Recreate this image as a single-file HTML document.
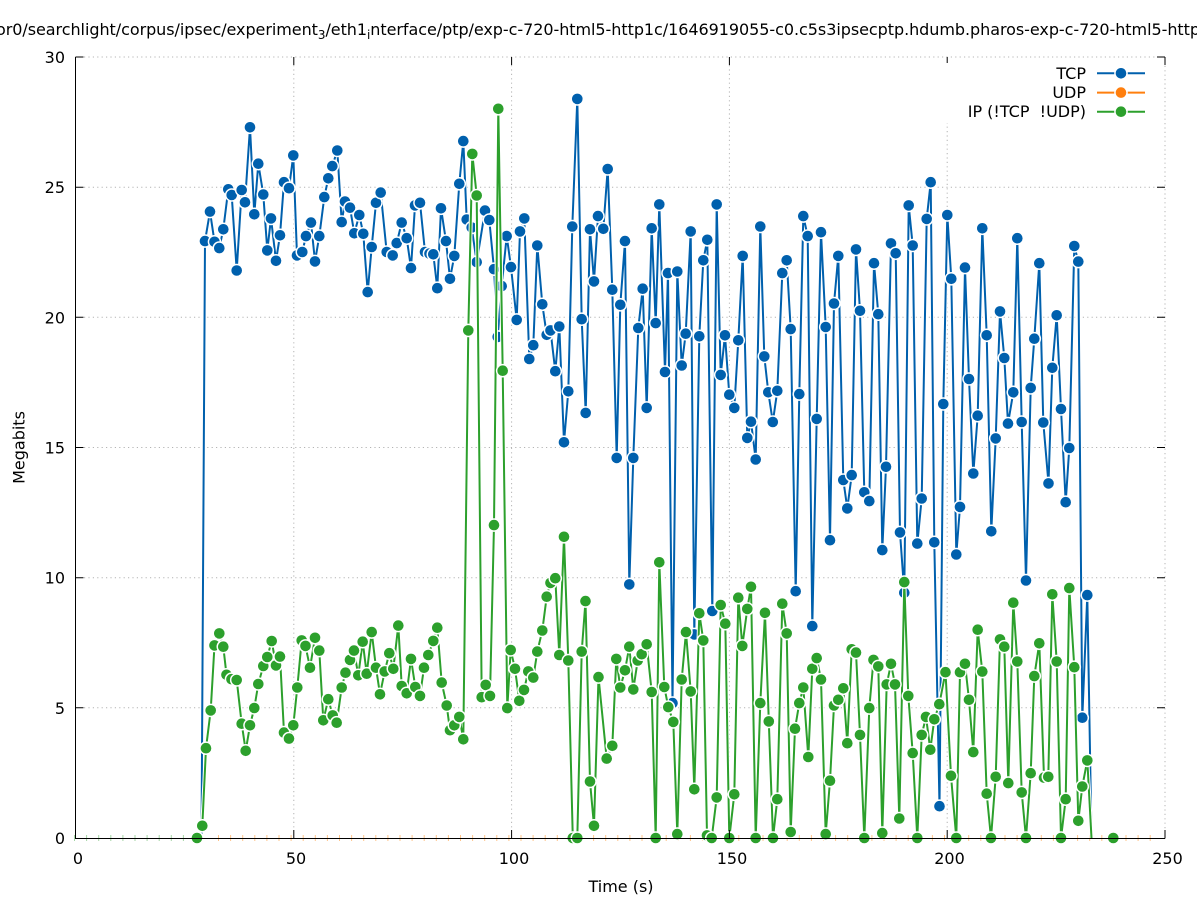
<!DOCTYPE html>
<html><head><meta charset="utf-8"><style>
html,body{margin:0;padding:0;background:#fff;width:1197px;height:900px;overflow:hidden}
svg{display:block}
text{font-family:"DejaVu Sans","Liberation Sans",sans-serif;font-size:16px;fill:#000}
</style></head><body>
<svg width="1197" height="900" viewBox="0 0 1197 900" xmlns="http://www.w3.org/2000/svg">
<defs>
<marker id="mB" markerWidth="16" markerHeight="16" refX="8" refY="8" markerUnits="userSpaceOnUse" overflow="visible"><circle cx="8" cy="8" r="6.8" fill="#fff"/><circle cx="8" cy="8" r="5.3" fill="#0060ad"/></marker>
<marker id="mG" markerWidth="16" markerHeight="16" refX="8" refY="8" markerUnits="userSpaceOnUse" overflow="visible"><circle cx="8" cy="8" r="6.8" fill="#fff"/><circle cx="8" cy="8" r="5.3" fill="#2ca02c"/></marker>
</defs>
<rect width="1197" height="900" fill="#fff"/>
<text x="-4" y="35" textLength="1204" lengthAdjust="spacing">or0/searchlight/corpus/ipsec/experiment<tspan font-size="12" dy="4">3</tspan><tspan dy="-4">/eth1</tspan><tspan font-size="12" dy="4">i</tspan><tspan dy="-4">nterface/ptp/exp-c-720-html5-http1c/1646919055-c0.c5s3ipsecptp.hdumb.pharos-exp-c-720-html5-http</tspan></text>

<!-- grid -->
<g stroke="#b4b4b4" stroke-width="1" stroke-dasharray="1.2 3.2" fill="none">
<path d="M84,707.8H1165M84,577.7H1165M84,447.5H1165M84,317.3H1165M84,187.2H1165M84,57H1165"/>
<path d="M293.8,65V830M511.6,65V830M729.4,65V830M947.2,65V830M1165,57V830"/>
</g>

<!-- TCP -->
<polyline fill="none" stroke="#fff" stroke-width="4" stroke-linejoin="round" points="201.5,838 205,241.1 210,211.6 214.5,241.8 219.3,248.1 223.3,229.3 228.3,189.3 231.7,195.0 236.7,270.5 241.7,190.0 245,202.3 250,127.3 254.3,214.3 258.3,163.7 263.3,194.5 267.3,250.4 271,218.4 276,260.8 280,235.3 284,182.2 289,188.2 293.3,155.4 297,255.4 302.3,252.0 306,236.1 311,222.6 315,261.4 319.3,236.1 324.3,197.1 328.3,178.3 332.3,166.1 337.3,150.5 341.7,222.1 345,201.5 350,207.7 354.3,233.3 359.3,215.0 363.3,233.8 367.7,292.1 371.7,247.0 376,202.8 380.7,192.6 386.7,252.0 392.7,255.4 396.7,243.1 401.7,222.6 406.7,238.2 411,268.1 415,205.4 420,202.8 425,252.0 429.5,253.6 433.3,254.3 437.3,288.2 441,208.3 446,241.1 450,278.8 454.3,255.9 459.3,183.8 463.3,141.1 466.7,219.5 471.7,227.5 476.7,262.1 485,210.6 489.3,220.0 494,269.2 497.7,336.9 501.7,286.1 506.7,236.1 511,267.1 516.7,319.9 520,231.4 524.3,218.4 529.3,359.0 533.3,345.2 537.3,245.5 542.3,304.3 546.7,334.8 550.5,330.4 555.3,371.2 559.3,326.5 564,442.3 568.3,391.3 572.3,226.5 577.3,98.9 581.7,319.2 585.7,412.9 590,229.3 594,281.4 598,216.1 603.3,228.8 607.7,169.0 612.3,289.7 616.7,457.9 620.3,304.8 625,241.1 629.3,584.4 633.3,457.9 638.3,328.0 642.7,288.7 646.7,407.9 651.7,228.3 655.7,323.1 659.3,204.4 665,372.0 668,273.1 672.5,703.1 677.3,271.5 681.7,365.5 685.7,333.7 690.7,231.4 694.3,634.4 699.3,336.3 703.3,260.3 707.3,239.8 712.3,611.0 716.7,204.4 720.7,374.9 725,335.3 729.3,394.7 734.3,407.9 738.3,340.3 742.7,255.9 747.3,437.9 751,421.7 755.7,459.5 760.3,226.5 764.3,356.4 768.3,392.3 772.8,422.0 777.3,390.8 782.3,273.1 786.7,260.3 790.7,329.1 795.7,591.2 799.3,394.1 803.3,216.1 807.7,236.1 812.3,626.1 816.7,418.9 821,232.2 825.7,327.0 830,540.2 834,303.5 838.3,255.9 843.3,480.0 847.3,508.4 851.7,475.1 856,249.4 860,310.8 864.3,492.3 869.3,501.1 874,263.2 878.3,314.2 882.3,550.1 886,466.8 891,243.4 895.7,253.3 900,532.4 904.3,592.8 908.7,205.4 912.7,245.5 917.3,543.6 921.7,498.5 926.7,218.9 930.7,182.2 934.3,542.3 939.5,806.2 943.3,404.0 947.3,215.0 951.3,278.8 956.3,554.5 960,506.9 965,267.6 969,379.0 973.3,473.5 977.7,415.7 982.3,228.3 986.7,335.3 991.3,531.3 995.7,438.4 1000,311.4 1004.3,358.0 1008,423.6 1013.3,392.3 1017.3,238.2 1021.7,422.0 1026,580.5 1030.7,387.9 1034.3,338.7 1039.3,263.2 1043.3,422.5 1048.5,483.4 1052.3,367.8 1056.7,315.3 1061,409.0 1065.7,502.2 1069.3,448.0 1074.3,246.0 1078.3,261.6 1082.3,717.7 1087.3,595.1 1091.5,838"/>
<polyline fill="none" stroke="#0060ad" stroke-width="2" stroke-linejoin="round" marker-mid="url(#mB)" points="201.5,838 205,241.1 210,211.6 214.5,241.8 219.3,248.1 223.3,229.3 228.3,189.3 231.7,195.0 236.7,270.5 241.7,190.0 245,202.3 250,127.3 254.3,214.3 258.3,163.7 263.3,194.5 267.3,250.4 271,218.4 276,260.8 280,235.3 284,182.2 289,188.2 293.3,155.4 297,255.4 302.3,252.0 306,236.1 311,222.6 315,261.4 319.3,236.1 324.3,197.1 328.3,178.3 332.3,166.1 337.3,150.5 341.7,222.1 345,201.5 350,207.7 354.3,233.3 359.3,215.0 363.3,233.8 367.7,292.1 371.7,247.0 376,202.8 380.7,192.6 386.7,252.0 392.7,255.4 396.7,243.1 401.7,222.6 406.7,238.2 411,268.1 415,205.4 420,202.8 425,252.0 429.5,253.6 433.3,254.3 437.3,288.2 441,208.3 446,241.1 450,278.8 454.3,255.9 459.3,183.8 463.3,141.1 466.7,219.5 471.7,227.5 476.7,262.1 485,210.6 489.3,220.0 494,269.2 497.7,336.9 501.7,286.1 506.7,236.1 511,267.1 516.7,319.9 520,231.4 524.3,218.4 529.3,359.0 533.3,345.2 537.3,245.5 542.3,304.3 546.7,334.8 550.5,330.4 555.3,371.2 559.3,326.5 564,442.3 568.3,391.3 572.3,226.5 577.3,98.9 581.7,319.2 585.7,412.9 590,229.3 594,281.4 598,216.1 603.3,228.8 607.7,169.0 612.3,289.7 616.7,457.9 620.3,304.8 625,241.1 629.3,584.4 633.3,457.9 638.3,328.0 642.7,288.7 646.7,407.9 651.7,228.3 655.7,323.1 659.3,204.4 665,372.0 668,273.1 672.5,703.1 677.3,271.5 681.7,365.5 685.7,333.7 690.7,231.4 694.3,634.4 699.3,336.3 703.3,260.3 707.3,239.8 712.3,611.0 716.7,204.4 720.7,374.9 725,335.3 729.3,394.7 734.3,407.9 738.3,340.3 742.7,255.9 747.3,437.9 751,421.7 755.7,459.5 760.3,226.5 764.3,356.4 768.3,392.3 772.8,422.0 777.3,390.8 782.3,273.1 786.7,260.3 790.7,329.1 795.7,591.2 799.3,394.1 803.3,216.1 807.7,236.1 812.3,626.1 816.7,418.9 821,232.2 825.7,327.0 830,540.2 834,303.5 838.3,255.9 843.3,480.0 847.3,508.4 851.7,475.1 856,249.4 860,310.8 864.3,492.3 869.3,501.1 874,263.2 878.3,314.2 882.3,550.1 886,466.8 891,243.4 895.7,253.3 900,532.4 904.3,592.8 908.7,205.4 912.7,245.5 917.3,543.6 921.7,498.5 926.7,218.9 930.7,182.2 934.3,542.3 939.5,806.2 943.3,404.0 947.3,215.0 951.3,278.8 956.3,554.5 960,506.9 965,267.6 969,379.0 973.3,473.5 977.7,415.7 982.3,228.3 986.7,335.3 991.3,531.3 995.7,438.4 1000,311.4 1004.3,358.0 1008,423.6 1013.3,392.3 1017.3,238.2 1021.7,422.0 1026,580.5 1030.7,387.9 1034.3,338.7 1039.3,263.2 1043.3,422.5 1048.5,483.4 1052.3,367.8 1056.7,315.3 1061,409.0 1065.7,502.2 1069.3,448.0 1074.3,246.0 1078.3,261.6 1082.3,717.7 1087.3,595.1 1091.5,838"/>

<!-- UDP / zero marks along axis -->
<line x1="74" y1="838" x2="196" y2="838" stroke="#a6d6a6" stroke-width="6" stroke-dasharray="1 11.1"/>
<line x1="218" y1="838" x2="1160" y2="838" stroke="#ffc48a" stroke-width="6" stroke-dasharray="1 11.1"/>

<!-- IP -->
<polyline fill="none" stroke="#fff" stroke-width="4" stroke-linejoin="round" points="197,838 202.3,825.8 206,748.2 210.7,710.4 214.5,645.4 219.3,633.4 223.3,646.7 226.5,674.8 231.5,679.2 236.7,680.0 241.7,723.7 245.7,750.8 250,725.3 254.3,708 258.3,684 263.3,666 267.3,657 271.7,641 276,665.4 280,656.6 284,732.6 289,738.6 293.3,725.3 297.3,687.5 301.7,640.4 305.5,645.9 310,667.7 315,637.8 319.3,650.6 323.3,720.3 328.3,699.2 332.7,715.4 336.7,722.7 341.7,687.5 345.5,672.7 350,659.9 354,650.6 358.3,675.3 362.7,641.7 366.7,673.7 371.7,632.1 376,667.7 380,694.3 384.7,671.4 389.3,653.2 393.3,668.8 398.3,625.6 401.7,686.0 406.7,693.3 411,658.9 415.3,687.0 420,695.9 424,667.7 428.3,655.0 433.3,640.9 437.3,627.7 441.7,682.6 446.7,705.5 450,730.2 454.3,725.3 459.3,716.9 463.3,739.3 468.3,330.4 472.3,153.9 476.7,195.5 481.7,697.2 485.7,684.9 490,695.9 494,525.1 498.3,108.8 502.7,370.7 507.3,708.1 510.7,650.0 515,668.8 519.3,700.8 524,689.9 528.3,671.4 533.3,677.6 537.3,651.6 542.3,630.5 546.7,596.7 550.5,582.9 555.3,578.2 559.3,655.0 564,536.8 568.3,660.5 572.8,838 577.3,838 581.7,651.6 585.5,601.1 590,781.5 594,825.8 598.5,677.1 606.7,758.6 612.3,745.8 616.3,658.9 620.3,687.5 625,670.3 629.3,646.7 633.3,689.4 637.7,660.5 641.7,654.2 646.7,644.3 651.7,692.0 655.7,838 659.3,562.3 664.3,687.0 668.3,707.1 673.3,721.9 677.3,834.1 681.7,679.5 686,632.1 690.7,691.4 694.3,789.3 699.3,613.3 703.3,640.4 707,835.4 711.7,838 716.7,797.4 720.7,605.0 725.3,623.7 729.3,838 734.3,794.3 738.3,597.7 742.3,645.9 747.3,608.9 751,586.8 755.7,838 760.3,703.1 765,612.8 768.8,721.4 773,838 777.3,799.2 782.3,603.7 786.7,633.4 790.7,832.0 795,728.7 799.3,703.1 803.3,687.5 808.3,757.0 812.3,668.8 816.7,658.1 821,679.5 825.7,834.1 830,780.7 834,705.5 838.3,699.8 843.3,688.3 847.3,743.2 851.7,649.3 856,652.6 860,734.9 864.3,838 869.3,708.1 873.5,659.9 878.3,666.4 882.3,833.1 886.7,684.4 891,663.8 895,684.4 899.3,818.5 904.3,582.1 908.3,695.9 912.7,753.1 917.3,838 921.7,734.9 926,716.9 930.3,749.7 934.3,719.3 939.3,704.2 945.5,672.2 951,775.8 956.3,838 960,672.2 965,663.8 969,699.8 973.3,752.1 977.7,629.7 982.3,671.6 986.7,793.7 991,838 995.7,776.8 1000,639.4 1004.3,646.7 1008.3,783.1 1013.3,602.7 1017.3,661.5 1021.7,792.4 1026,838 1030.7,773.2 1034.3,676.1 1039.3,643.3 1044,777.6 1048.3,776.8 1052.3,594.3 1056.7,661.5 1061,838 1065.7,799.2 1069.3,588.1 1074.3,667.2 1078.3,820.8 1082.3,786.5 1087.3,760.4 1091.5,838"/>
<polyline fill="none" stroke="#2ca02c" stroke-width="2" stroke-linejoin="round" points="1087.3,760.4 1091.5,838"/>
<polyline fill="none" stroke="#2ca02c" stroke-width="2" stroke-linejoin="round" marker-start="url(#mG)" marker-mid="url(#mG)" marker-end="url(#mG)" points="197,838 202.3,825.8 206,748.2 210.7,710.4 214.5,645.4 219.3,633.4 223.3,646.7 226.5,674.8 231.5,679.2 236.7,680.0 241.7,723.7 245.7,750.8 250,725.3 254.3,708 258.3,684 263.3,666 267.3,657 271.7,641 276,665.4 280,656.6 284,732.6 289,738.6 293.3,725.3 297.3,687.5 301.7,640.4 305.5,645.9 310,667.7 315,637.8 319.3,650.6 323.3,720.3 328.3,699.2 332.7,715.4 336.7,722.7 341.7,687.5 345.5,672.7 350,659.9 354,650.6 358.3,675.3 362.7,641.7 366.7,673.7 371.7,632.1 376,667.7 380,694.3 384.7,671.4 389.3,653.2 393.3,668.8 398.3,625.6 401.7,686.0 406.7,693.3 411,658.9 415.3,687.0 420,695.9 424,667.7 428.3,655.0 433.3,640.9 437.3,627.7 441.7,682.6 446.7,705.5 450,730.2 454.3,725.3 459.3,716.9 463.3,739.3 468.3,330.4 472.3,153.9 476.7,195.5 481.7,697.2 485.7,684.9 490,695.9 494,525.1 498.3,108.8 502.7,370.7 507.3,708.1 510.7,650.0 515,668.8 519.3,700.8 524,689.9 528.3,671.4 533.3,677.6 537.3,651.6 542.3,630.5 546.7,596.7 550.5,582.9 555.3,578.2 559.3,655.0 564,536.8 568.3,660.5 572.8,838 577.3,838 581.7,651.6 585.5,601.1 590,781.5 594,825.8 598.5,677.1 606.7,758.6 612.3,745.8 616.3,658.9 620.3,687.5 625,670.3 629.3,646.7 633.3,689.4 637.7,660.5 641.7,654.2 646.7,644.3 651.7,692.0 655.7,838 659.3,562.3 664.3,687.0 668.3,707.1 673.3,721.9 677.3,834.1 681.7,679.5 686,632.1 690.7,691.4 694.3,789.3 699.3,613.3 703.3,640.4 707,835.4 711.7,838 716.7,797.4 720.7,605.0 725.3,623.7 729.3,838 734.3,794.3 738.3,597.7 742.3,645.9 747.3,608.9 751,586.8 755.7,838 760.3,703.1 765,612.8 768.8,721.4 773,838 777.3,799.2 782.3,603.7 786.7,633.4 790.7,832.0 795,728.7 799.3,703.1 803.3,687.5 808.3,757.0 812.3,668.8 816.7,658.1 821,679.5 825.7,834.1 830,780.7 834,705.5 838.3,699.8 843.3,688.3 847.3,743.2 851.7,649.3 856,652.6 860,734.9 864.3,838 869.3,708.1 873.5,659.9 878.3,666.4 882.3,833.1 886.7,684.4 891,663.8 895,684.4 899.3,818.5 904.3,582.1 908.3,695.9 912.7,753.1 917.3,838 921.7,734.9 926,716.9 930.3,749.7 934.3,719.3 939.3,704.2 945.5,672.2 951,775.8 956.3,838 960,672.2 965,663.8 969,699.8 973.3,752.1 977.7,629.7 982.3,671.6 986.7,793.7 991,838 995.7,776.8 1000,639.4 1004.3,646.7 1008.3,783.1 1013.3,602.7 1017.3,661.5 1021.7,792.4 1026,838 1030.7,773.2 1034.3,676.1 1039.3,643.3 1044,777.6 1048.3,776.8 1052.3,594.3 1056.7,661.5 1061,838 1065.7,799.2 1069.3,588.1 1074.3,667.2 1078.3,820.8 1082.3,786.5 1087.3,760.4"/>
<circle cx="1113.3" cy="838" r="6.8" fill="#fff"/><circle cx="1113.3" cy="838" r="5.3" fill="#2ca02c"/>

<!-- axes -->
<g stroke="#000" stroke-width="1" fill="none">
<path d="M75.5,57V838.5H1165"/>
<path d="M75.5,707.8h8M75.5,577.7h8M75.5,447.5h8M75.5,317.3h8M75.5,187.2h8M75.5,57h8"/>
<path d="M1157,707.8h8M1157,577.7h8M1157,447.5h8M1157,317.3h8M1157,187.2h8M1157,57h8"/>
<path d="M293.8,838v-8M511.6,838v-8M729.4,838v-8M947.2,838v-8M1165,838.5v-8.5"/>
<path d="M293.8,57v8M511.6,57v8M729.4,57v8M947.2,57v8M1165,57v8"/>
</g>

<!-- legend -->
<rect x="935" y="63" width="224" height="60" fill="#fff"/>
<text x="1086" y="79" text-anchor="end">TCP</text>
<text x="1086" y="98" text-anchor="end">UDP</text>
<text x="1086" y="117" text-anchor="end" style="white-space:pre" xml:space="preserve">IP (!TCP  !UDP)</text>
<g stroke-width="2">
<line x1="1097" y1="73.3" x2="1145" y2="73.3" stroke="#0060ad"/>
<line x1="1097" y1="92.6" x2="1145" y2="92.6" stroke="#ff7f0e"/>
<line x1="1097" y1="111.7" x2="1145" y2="111.7" stroke="#2ca02c"/>
</g>
<circle cx="1121" cy="73.3" r="6.8" fill="#fff"/><circle cx="1121" cy="73.3" r="5.3" fill="#0060ad"/>
<circle cx="1121" cy="92.6" r="6.8" fill="#fff"/><circle cx="1121" cy="92.6" r="5.3" fill="#ff7f0e"/>
<circle cx="1121" cy="111.7" r="6.8" fill="#fff"/><circle cx="1121" cy="111.7" r="5.3" fill="#2ca02c"/>

<!-- tick labels -->
<g text-anchor="end">
<text x="65" y="844">0</text>
<text x="65" y="713.8">5</text>
<text x="65" y="583.7">10</text>
<text x="65" y="453.5">15</text>
<text x="65" y="323.3">20</text>
<text x="65" y="193.2">25</text>
<text x="65" y="63">30</text>
</g>
<g text-anchor="middle">
<text x="78" y="864">0</text>
<text x="296" y="864">50</text>
<text x="514" y="864">100</text>
<text x="732" y="864">150</text>
<text x="949.5" y="864">200</text>
<text x="1167.5" y="864">250</text>
<text x="621" y="892">Time (s)</text>
<text transform="translate(24.5,447.5) rotate(-90)">Megabits</text>
</g>
</svg>
</body></html>
